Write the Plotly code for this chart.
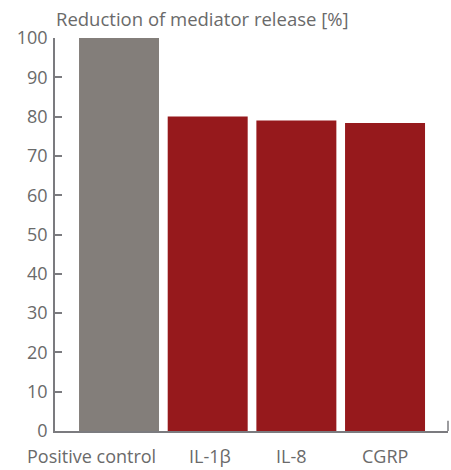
import plotly.graph_objects as go

categories = ["Positive control", "IL-1β", "IL-8", "CGRP"]
values = [100, 80, 79, 78.4]
bar_colors = ["#837e7a", "#96191c", "#96191c", "#96191c"]
label_shifts = [-28, 2, -5, 0]
y_ticks = [0, 10, 20, 30, 40, 50, 60, 70, 80, 90, 100]
y_title = "Reduction of mediator release [%]"

axis_color = "#7b7b7f"
text_color = "#6a6a6a"
font_family = "Open Sans"

fig = go.Figure(
    go.Bar(
        x=list(range(len(categories))),
        y=values,
        marker=dict(color=bar_colors, line=dict(width=0)),
        width=0.902,
        hoverinfo="skip",
    )
)

annotations = [
    dict(
        x=i, y=0, xref="x", yref="y",
        text=c, showarrow=False,
        yanchor="top", xanchor="center",
        yshift=-11, xshift=label_shifts[i],
        font=dict(family=font_family, size=18, color=text_color),
    )
    for i, c in enumerate(categories)
]
annotations.append(
    dict(
        x=0, y=1, xref="paper", yref="paper",
        text=y_title, showarrow=False,
        xanchor="left", yanchor="middle",
        xshift=-1, yshift=20,
        font=dict(family=font_family, size=18.5, color=text_color),
    )
)

fig.update_layout(
    width=451, height=470,
    margin=dict(l=55, r=3, t=38, b=39),
    paper_bgcolor="white", plot_bgcolor="white",
    showlegend=False,
    annotations=annotations,
    shapes=[
        dict(type="line", xref="paper", yref="paper",
             x0=1, x1=1, y0=0, y1=0.026,
             line=dict(color=axis_color, width=1.5)),
    ],
    xaxis=dict(
        range=[-0.722, 3.71],
        showline=True, linecolor=axis_color, linewidth=1.5,
        showgrid=False, zeroline=False,
        showticklabels=False, ticks="",
        fixedrange=True,
    ),
    yaxis=dict(
        range=[0, 100],
        tickvals=y_ticks,
        showline=True, linecolor=axis_color, linewidth=1.5,
        ticks="inside", ticklen=7, tickwidth=1.5, tickcolor=axis_color,
        showgrid=False, zeroline=False,
        tickfont=dict(family=font_family, size=18, color=text_color),
        ticklabelstandoff=2,
        fixedrange=True,
    ),
)

fig.write_html("out.html")
